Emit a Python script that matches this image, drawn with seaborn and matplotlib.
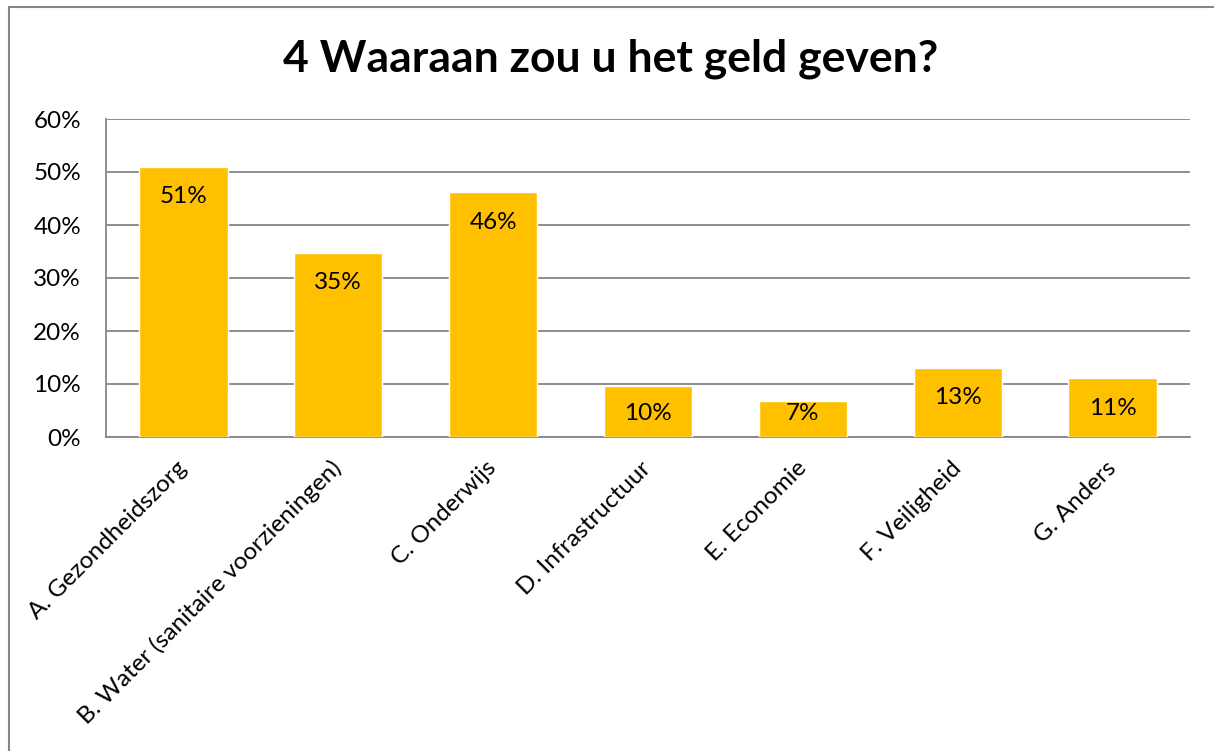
import matplotlib
matplotlib.use('Agg')
import matplotlib.pyplot as plt
from matplotlib.patches import Rectangle
from matplotlib.ticker import PercentFormatter
import seaborn as sns

# categorieen en aandelen
categorieen = [
    'A. Gezondheidszorg',
    'B. Water (sanitaire voorzieningen)',
    'C. Onderwijs',
    'D. Infrastructuur',
    'E. Economie',
    'F. Veiligheid',
    'G. Anders',
]
aandelen = [0.510, 0.348, 0.462, 0.096, 0.068, 0.131, 0.111]
y_ticks = [0.0, 0.1, 0.2, 0.3, 0.4, 0.5, 0.6]

sns.set_theme(style='white')
plt.rcParams['font.family'] = ['Lato', 'DejaVu Sans']
plt.rcParams['text.color'] = 'black'

grijs = '#868686'
geel = '#FFC000'

fig = plt.figure(figsize=(12.14, 7.51), dpi=100)
ax = fig.add_axes([106 / 1214, 1 - 437 / 751, (1190 - 106) / 1214, (437 - 119) / 751])

sns.barplot(x=categorieen, y=aandelen, color=geel, saturation=1, width=0.57, ax=ax, zorder=3)

ax.set_ylim(0, 0.6)
ax.set_yticks(y_ticks)
ax.yaxis.set_major_formatter(PercentFormatter(1.0, decimals=0))
ax.grid(axis='y', color=grijs, linewidth=1.3, zorder=0)
ax.set_axisbelow(True)
ax.set_xlabel('')
ax.set_ylabel('')

for side in ['top', 'right']:
    ax.spines[side].set_visible(False)
for side in ['left', 'bottom']:
    ax.spines[side].set_color(grijs)
    ax.spines[side].set_linewidth(1.3)

ax.tick_params(axis='both', length=0, labelsize=17.5, colors='black')
ax.tick_params(axis='y', pad=18)
plt.setp(ax.get_xticklabels(), rotation=45, ha='right', va='center',
         rotation_mode='anchor')
ax.tick_params(axis='x', pad=20)

# data labels binnen de staaf
for i, v in enumerate(aandelen):
    ax.text(i, max(v - 0.057, 0.045), f'{v:.0%}', ha='center', va='center',
            fontsize=17.5, color='black', zorder=4)

fig.text(0.503, 0.922, '4 Waaraan zou u het geld geven?', ha='center', va='center',
         fontsize=32, fontweight='bold', color='black')

# rand van het grafiekvak
fig.add_artist(Rectangle((8.5 / 1214, -0.05), 1.0, 1.05 - 7.5 / 751,
                         transform=fig.transFigure, fill=False,
                         edgecolor=grijs, linewidth=1.5))

fig.savefig('out.png', dpi=100)
